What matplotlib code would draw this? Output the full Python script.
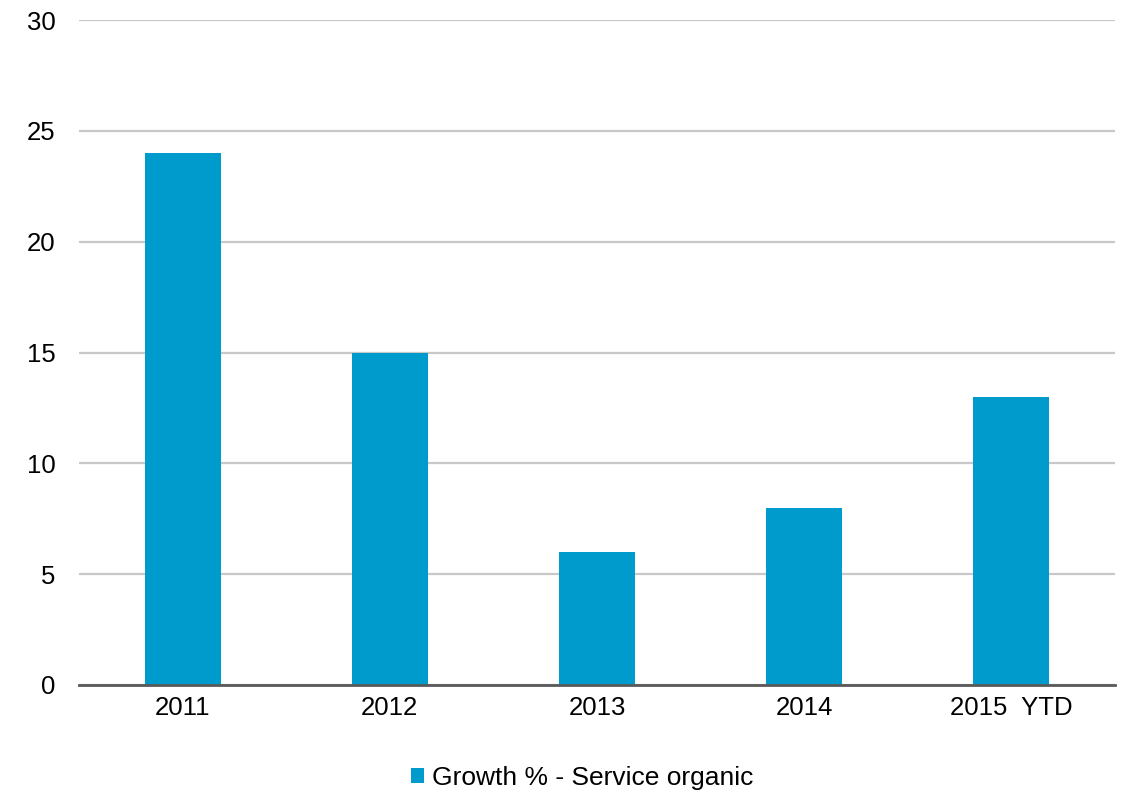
import matplotlib
matplotlib.use("Agg")
import matplotlib.pyplot as plt
from matplotlib.patches import Patch

# Данные
years = ["2011", "2012", "2013", "2014", "2015  YTD"]
growth = [24, 15, 6, 8, 13]
yticks = [0, 5, 10, 15, 20, 25, 30]

plt.rcParams["font.family"] = ["Liberation Sans", "DejaVu Sans"]

bar_color = "#009BCD"

fig = plt.figure(figsize=(11.29, 7.95), dpi=100)
ax = fig.add_axes([0.070, 0.1384, 0.9176, 0.8364])

ax.bar(range(len(years)), growth, width=0.367, color=bar_color, zorder=3)

ax.set_ylim(0, 30)
ax.set_xlim(-0.5, len(years) - 0.5)
ax.set_yticks(yticks)
ax.set_xticks(range(len(years)))
ax.set_xticklabels(years)
ax.tick_params(axis="both", length=0, labelsize=18.5, colors="black")
ax.tick_params(axis="y", pad=17)
ax.tick_params(axis="x", pad=8)

ax.grid(axis="y", color="#C8C8C8", linewidth=1.6, zorder=0)
for side in ["top", "right", "left"]:
    ax.spines[side].set_visible(False)
ax.spines["bottom"].set_color("#595959")
ax.spines["bottom"].set_linewidth(2)
ax.spines["bottom"].set_zorder(4)

handle = Patch(facecolor=bar_color, label="Growth % - Service organic")
fig.legend(handles=[handle], loc="center", bbox_to_anchor=(0.5155, 0.022),
           frameon=False, fontsize=19, handlelength=0.5, handleheight=0.5,
           handletextpad=0.3)

fig.savefig("out.png", dpi=100)
